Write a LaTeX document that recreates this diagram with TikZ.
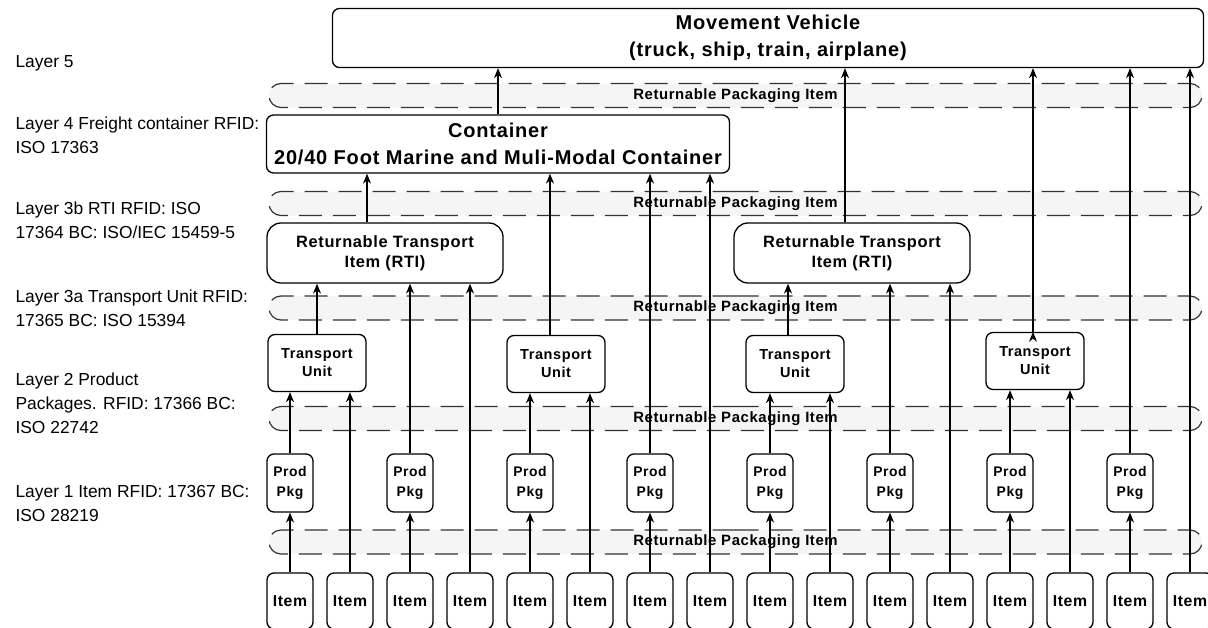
\documentclass[tikz,border=0pt]{standalone}
\usepackage{fontspec}
\setmainfont{Liberation Sans}
\newfontfamily\boxfont{Liberation Sans}[LetterSpace=4]
\usetikzlibrary{positioning, arrows.meta, shapes.misc}
\tikzset{
    ->, % connectors point upwards to the next layer
    >={Stealth[length=10pt, width=8pt]}, % filled arrow heads
    x=1pt, y=-1pt, % one unit is one pixel of the sketch
    node distance=60pt, % spacing of the item row
}

\begin{document}
\begin{tikzpicture}[
                        styleLayer/.style={anchor=west, align=left, font=\fontsize{17.4}{24}\selectfont},
                        styleBox/.style={draw, line width=1.3pt, rounded corners=7pt, fill=white, align=center, inner sep=0pt},
                        styleItem/.style={styleBox, minimum width=46pt, minimum height=56pt, font=\boxfont\bfseries\fontsize{15.8}{18}\selectfont},
                        stylePkg/.style={styleBox, minimum width=46pt, minimum height=58pt, node distance=118pt, font=\boxfont\bfseries\fontsize{13.9}{20}\selectfont},
                        styleUnit/.style={styleBox, minimum width=98pt, minimum height=57pt, font=\boxfont\bfseries\fontsize{14.5}{18}\selectfont},
                        styleRti/.style={styleBox, rounded corners=14pt, minimum width=236pt, minimum height=60pt, font=\boxfont\bfseries\fontsize{16.4}{20}\selectfont},
                        styleBig/.style={styleBox, font=\boxfont\bfseries\fontsize{20}{27}\selectfont},
                        styleBand/.style={rounded rectangle, draw=black!80, line width=1.2pt, dash pattern=on 23pt off 11pt, fill=gray!8, minimum width=933pt, minimum height=24pt, inner sep=0pt, font=\boxfont\bfseries\fontsize{14.9}{16}\selectfont},
                    ]
                    \useasboundingbox (0,0) rectangle (1208,627);
                    % returnable packaging bands
                    \node[styleBand] (rpi1) at (735.5,95.5) {Returnable Packaging Item};
                    \node[styleBand] (rpi2) at (735.5,203.5) {Returnable Packaging Item};
                    \node[styleBand] (rpi3) at (735.5,308) {Returnable Packaging Item};
                    \node[styleBand] (rpi4) at (735.5,418.5) {Returnable Packaging Item};
                    \node[styleBand] (rpi5) at (735.5,542) {Returnable Packaging Item};
                    % layer captions
                    \node[styleLayer] (l5) at (12,63) {Layer 5};
                    \node[styleLayer] (l4) at (12,135.5) {Layer 4 Freight container RFID:\\ISO 17363};
                    \node[styleLayer] (l3b) at (12,220.5) {Layer 3b RTI RFID: ISO\\17364 BC: ISO/IEC 15459-5};
                    \node[styleLayer] (l3a) at (12,308.5) {Layer 3a Transport Unit RFID:\\17365 BC: ISO 15394};
                    \node[styleLayer] (l2) at (12,403) {Layer 2 Product\\Packages. RFID: 17366 BC:\\ISO 22742};
                    \node[styleLayer] (l1) at (12,504) {Layer 1 Item RFID: 17367 BC:\\ISO 28219};
                    % items
                    \node[styleItem] (it0) at (290,601) {Item};
                    \node[styleItem, right of=it0] (it1) {Item};
                    \node[styleItem, right of=it1] (it2) {Item};
                    \node[styleItem, right of=it2] (it3) {Item};
                    \node[styleItem, right of=it3] (it4) {Item};
                    \node[styleItem, right of=it4] (it5) {Item};
                    \node[styleItem, right of=it5] (it6) {Item};
                    \node[styleItem, right of=it6] (it7) {Item};
                    \node[styleItem, right of=it7] (it8) {Item};
                    \node[styleItem, right of=it8] (it9) {Item};
                    \node[styleItem, right of=it9] (it10) {Item};
                    \node[styleItem, right of=it10] (it11) {Item};
                    \node[styleItem, right of=it11] (it12) {Item};
                    \node[styleItem, right of=it12] (it13) {Item};
                    \node[styleItem, right of=it13] (it14) {Item};
                    \node[styleItem, right of=it14] (it15) {Item};
                    % product packages
                    \node[stylePkg, above of=it0] (pk0) {Prod\\Pkg};
                    \node[stylePkg, above of=it2] (pk1) {Prod\\Pkg};
                    \node[stylePkg, above of=it4] (pk2) {Prod\\Pkg};
                    \node[stylePkg, above of=it6] (pk3) {Prod\\Pkg};
                    \node[stylePkg, above of=it8] (pk4) {Prod\\Pkg};
                    \node[stylePkg, above of=it10] (pk5) {Prod\\Pkg};
                    \node[stylePkg, above of=it12] (pk6) {Prod\\Pkg};
                    \node[stylePkg, above of=it14] (pk7) {Prod\\Pkg};
                    % transport units
                    \node[styleUnit] (tu1) at (317,363) {Transport\\Unit};
                    \node[styleUnit] (tu2) at (556,364) {Transport\\Unit};
                    \node[styleUnit] (tu3) at (795,364) {Transport\\Unit};
                    \node[styleUnit] (tu4) at (1035,361) {Transport\\Unit};
                    % returnable transport items
                    \node[styleRti] (rti1) at (385,253) {Returnable Transport\\Item (RTI)};
                    \node[styleRti] (rti2) at (852,253) {Returnable Transport\\Item (RTI)};
                    % container and vehicle
                    \node[styleBig, minimum width=463pt, minimum height=58pt] (cont) at (498,144) {Container\\20/40 Foot Marine and Muli-Modal Container};
                    \node[styleBig, minimum width=871pt, minimum height=59pt] (veh) at (768,38) {Movement Vehicle\\(truck, ship, train, airplane)};
                    \draw[line width=1.1pt]
                    (it0) edge (pk0)
                    (it2) edge (pk1)
                    (it4) edge (pk2)
                    (it6) edge (pk3)
                    (it8) edge (pk4)
                    (it10) edge (pk5)
                    (it12) edge (pk6)
                    (it14) edge (pk7)
                    (pk0) edge (pk0.north |- tu1.south)
                    (it1) edge (it1.north |- tu1.south)
                    (pk2) edge (pk2.north |- tu2.south)
                    (it5) edge (it5.north |- tu2.south)
                    (pk4) edge (pk4.north |- tu3.south)
                    (it9) edge (it9.north |- tu3.south)
                    (pk6) edge (pk6.north |- tu4.south)
                    (it13) edge (it13.north |- tu4.south)
                    (tu1) edge (tu1.north |- rti1.south)
                    (pk1) edge (pk1.north |- rti1.south)
                    (it3) edge (it3.north |- rti1.south)
                    ([xshift=-7pt]tu3.north) edge ([xshift=-7pt]tu3.north |- rti2.south)
                    (pk5) edge (pk5.north |- rti2.south)
                    (it11) edge (it11.north |- rti2.south)
                    ([xshift=-6pt]tu2.north) edge ([xshift=-6pt]tu2.north |- cont.south)
                    (pk3) edge (pk3.north |- cont.south)
                    (it7) edge (it7.north |- cont.south)
                    ([xshift=-18pt]rti1.north) edge ([xshift=-18pt]rti1.north |- cont.south)
                    (cont) edge (cont.north |- veh.south)
                    ([xshift=-7pt]rti2.north) edge ([xshift=-7pt]rti2.north |- veh.south)
                    ([xshift=-2pt]tu4.north) edge ([xshift=-2pt]tu4.north |- veh.south)
                    (pk7) edge (pk7.north |- veh.south)
                    (it15) edge (it15.north |- veh.south);
                \end{tikzpicture}
\end{document}
